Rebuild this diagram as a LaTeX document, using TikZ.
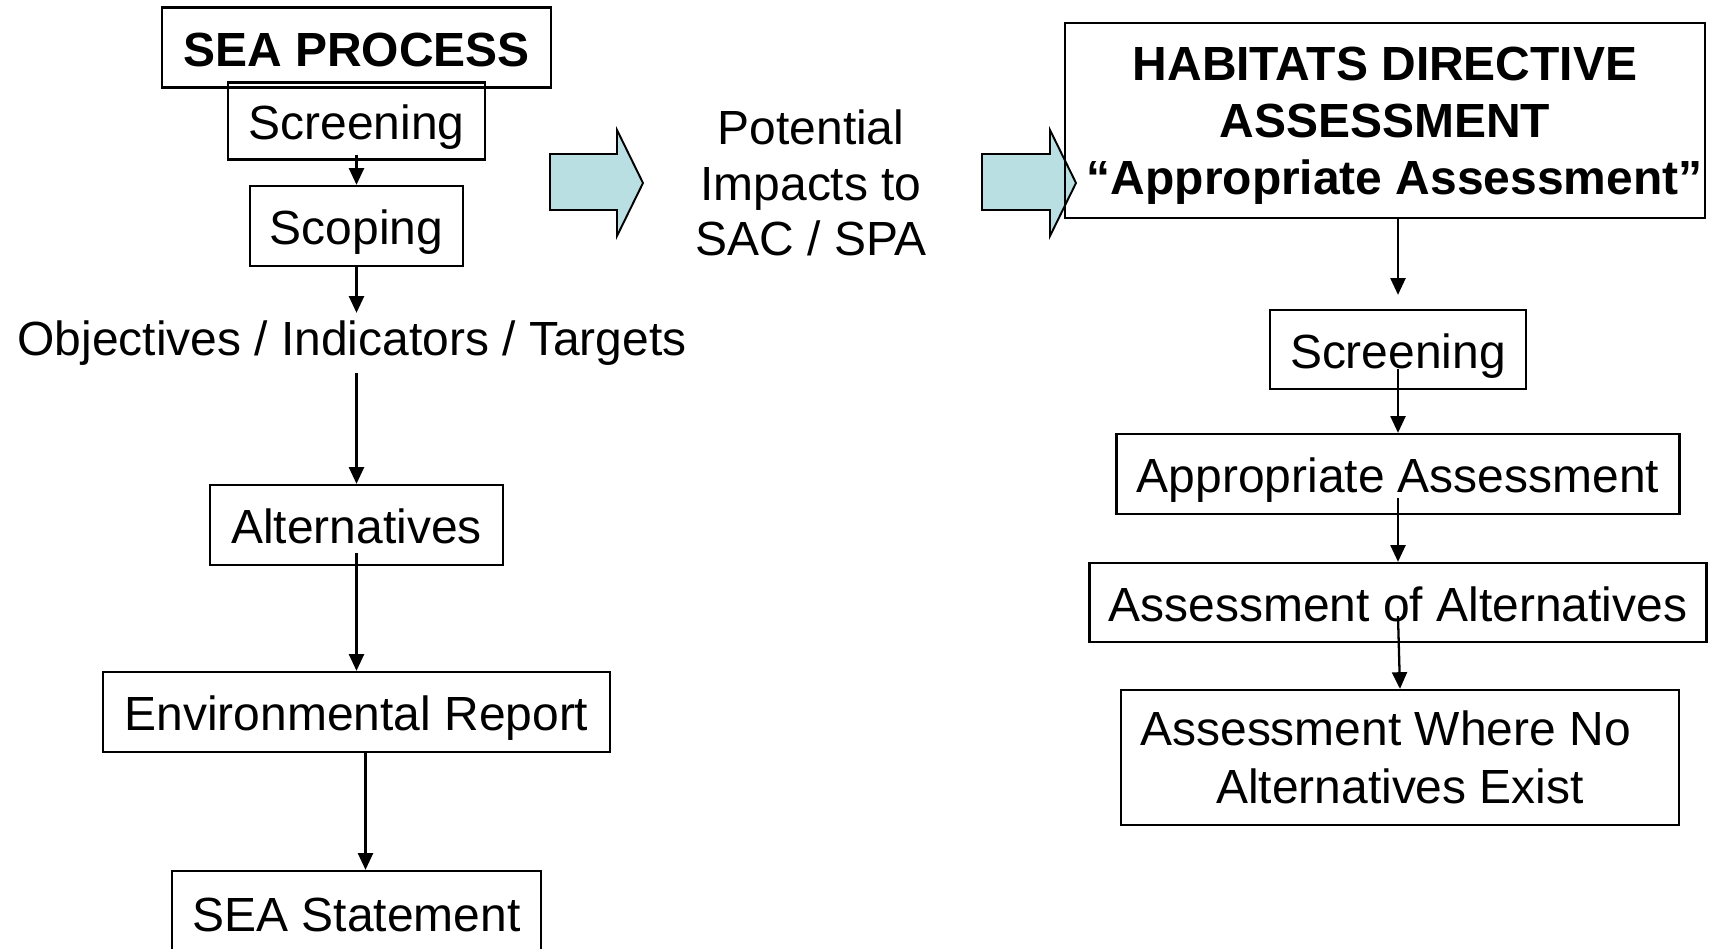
\documentclass[tikz,border=0pt]{standalone}
\usepackage{fontspec}
\setmainfont{Liberation Sans}
\usepackage{xcolor}
\usepackage{tikz}
\usetikzlibrary{arrows.meta, positioning, calc}
\definecolor{arrowfill}{RGB}{185,223,226}

\begin{document}
\begin{tikzpicture}[x=0.02cm, y=-0.02cm, ->, >={Triangle[width=8.5pt,length=9.5pt]}, line width=1.3pt, font=\fontsize{27.3}{31.7}\selectfont]
  \tikzstyle{box} = [rectangle, draw, inner sep=0pt, align=center]
  \tikzstyle{onebox} = [box, text height=21.6pt, text depth=0pt]
  \tikzstyle{plaintext} = [align=center, inner sep=0pt]
  \tikzstyle{bigarrow} = [draw, fill=arrowfill, -, line width=1.1pt]

  \useasboundingbox (0,0) rectangle (1714,949);

  % left column: SEA process
  \node[onebox, minimum width=7.78cm, minimum height=1.6cm, font=\fontsize{27.3}{31.7}\selectfont\bfseries] (SeaProc) at (356.5,47.5) {SEA PROCESS};
  \node[onebox, minimum width=5.14cm, minimum height=1.54cm] (ScrL) at (356.5,121) {Screening};
  \node[onebox, minimum width=4.26cm, minimum height=1.6cm] (ScopL) at (356.5,226) {Scoping};
  \node[plaintext, text height=21.6pt, text depth=0pt] (Obj) at (352,337) {Objectives / Indicators / Targets};
  \node[onebox, minimum width=5.86cm, minimum height=1.6cm] (AltL) at (356.5,525) {Alternatives};
  \node[onebox, minimum width=10.14cm, minimum height=1.6cm] (EnvL) at (356.5,712) {Environmental Report};
  \node[onebox, minimum width=7.38cm, minimum height=1.68cm] (StmtL) at (356.5,913) {SEA Statement};

  % block arrows and the middle text
  \draw[bigarrow] (550,154) -- (617,154) -- (617,130) -- (643,183) -- (617,236) -- (617,210) -- (550,210) -- cycle;
  \node[plaintext] (Impacts) at (811,183) {Potential\\Impacts to\\SAC / SPA};
  \draw[bigarrow] (982,154) -- (1050,154) -- (1050,130) -- (1076,183) -- (1050,236) -- (1050,210) -- (982,210) -- cycle;

  % right column: habitats directive
  \node[box, minimum width=12.8cm, minimum height=3.9cm, text depth=-4pt, font=\fontsize{27.3}{32.4}\selectfont\bfseries] (Hda) at (1385,120.5) {HABITATS DIRECTIVE\\ASSESSMENT\\\hspace*{11pt}``Appropriate Assessment''};
  \node[onebox, minimum width=5.12cm, minimum height=1.58cm] (ScrR) at (1398,349.5) {Screening};
  \node[onebox, minimum width=11.26cm, minimum height=1.6cm] (AppR) at (1398,474) {Appropriate Assessment};
  \node[onebox, minimum width=12.34cm, minimum height=1.58cm] (AltR) at (1398,602.5) {Assessment of Alternatives};
  \node[box, minimum width=11.16cm, minimum height=2.7cm, text depth=-8pt, font=\fontsize{27.3}{32.9}\selectfont] (NoAltR) at (1400,757.5) {Assessment Where No\hspace*{0.6em}\\Alternatives Exist};

  \draw ($(ScrL.south)+(0,-6)$) -- (ScopL.north);
  \draw (ScopL.south) -- ($(ScopL.south |- Obj.north)+(0,-4)$);
  \draw ($(ScopL.south |- Obj.south)+(0,16)$) -- (AltL.north);
  \draw ($(AltL.south)+(0,-13)$) -- (EnvL.north);
  \draw ($(EnvL.south)+(9,0)$) -- ($(StmtL.north)+(9,0)$);

  \draw (Hda.south -| ScrR.north) -- ($(ScrR.north)+(0,-14)$);
  \draw ($(ScrR.south)+(0,-21)$) -- (AppR.north);
  \draw ($(AppR.south)+(0,-17)$) -- (AltR.north);
  \draw ($(AltR.south)+(0,-27)$) -- (NoAltR.north);
\end{tikzpicture}
\end{document}
